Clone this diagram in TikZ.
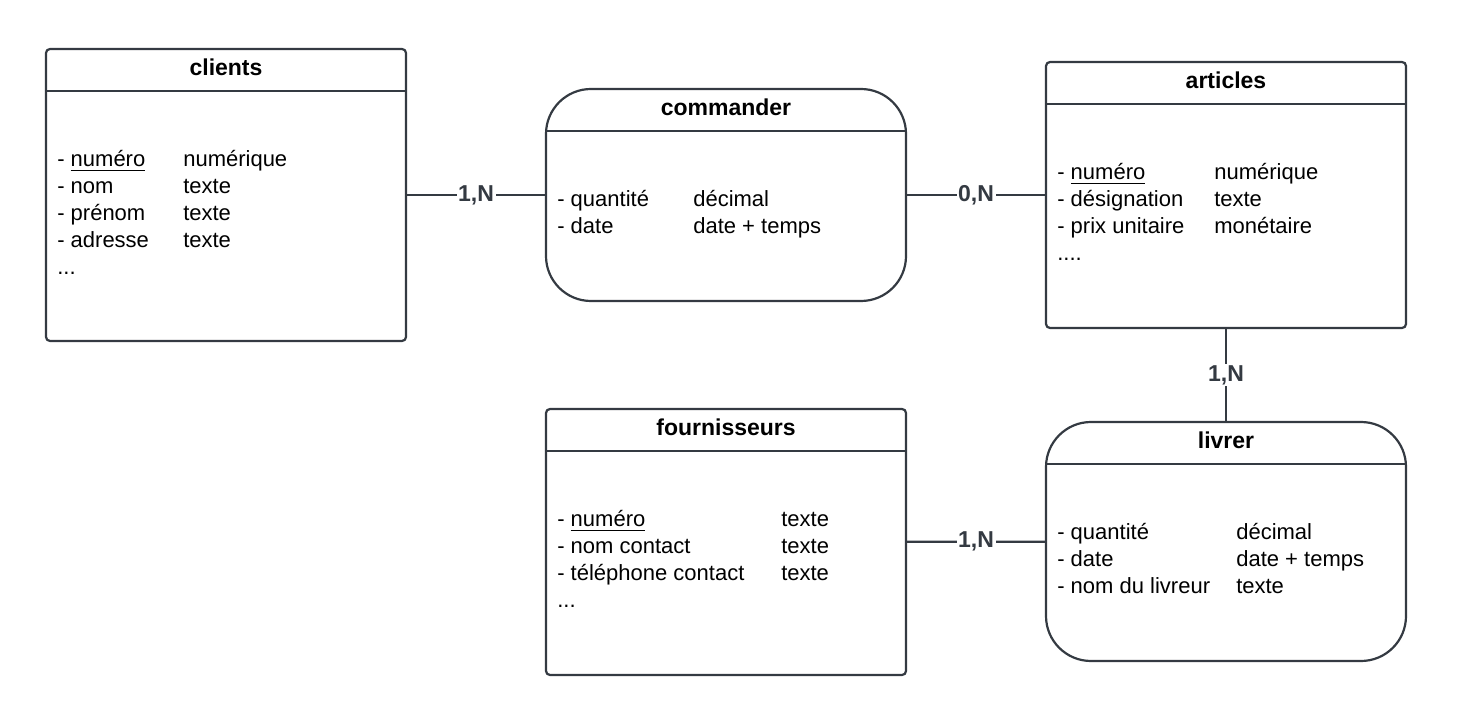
\documentclass[tikz,border=0pt]{standalone}
\usepackage{fontspec}
\setmainfont{Liberation Sans}
\usetikzlibrary{positioning}

\definecolor{linegray}{RGB}{52,58,66}

\tikzset{
  entity/.style={draw=linegray, line width=1.1pt, rounded corners=2pt,
    minimum width=180pt, inner sep=0pt},
  assoc/.style={entity, rounded corners=22.5pt},
  title/.style={anchor=base, font=\fontsize{11.5}{14}\selectfont\bfseries, inner sep=0pt},
  attrs/.style={anchor=base west, inner sep=0pt, align=left},
  card/.style={fill=white, inner sep=0.8pt, font=\fontsize{11.5}{14}\selectfont\bfseries, text=linegray}
}

\begin{document}
\begin{tikzpicture}[x=0.5pt, y=-0.5pt, font=\fontsize{11}{13.5}\selectfont]

  \useasboundingbox (0,0) rectangle (1461,716);

  \node (clients) [entity, minimum height=146pt] at (226,195) {};
  \node (commander) [assoc, minimum height=106pt] at (726,195) {};
  \node (articles) [entity, minimum height=133pt] at (1226,195) {};
  \node (fournisseurs) [entity, minimum height=133pt] at (726,542) {};
  \node (livrer) [assoc, minimum height=119.5pt] at (1226,541.5) {};

  % titles and header lines
  \foreach \n in {clients,commander,articles,fournisseurs,livrer} {
    \node[title] (\n-t) at ([yshift=-14pt]\n.north) {\n};
    \draw[linegray, line width=1.1pt]
      ([yshift=-21.5pt]\n.north west) -- ([yshift=-21.5pt]\n.north east);
  }

  % attributes
  \node[attrs] (clients-a) at ([xshift=6pt,yshift=-59.5pt]clients.north west)
    {\begin{tabular}[t]{@{}p{63pt}@{}l@{}}
      - \underline{numéro} & numérique\\
      - nom & texte\\
      - prénom & texte\\
      - adresse & texte\\
      ... &
    \end{tabular}};
  \node[attrs] (commander-a) at ([xshift=6pt,yshift=-59.5pt]commander.north west)
    {\begin{tabular}[t]{@{}p{68pt}@{}l@{}}
      - quantité & décimal\\
      - date & date + temps
    \end{tabular}};
  \node[attrs] (articles-a) at ([xshift=6pt,yshift=-59.5pt]articles.north west)
    {\begin{tabular}[t]{@{}p{78.5pt}@{}l@{}}
      - \underline{numéro} & numérique\\
      - désignation & texte\\
      - prix unitaire & monétaire\\
      .... &
    \end{tabular}};
  \node[attrs] (fournisseurs-a) at ([xshift=6pt,yshift=-59.5pt]fournisseurs.north west)
    {\begin{tabular}[t]{@{}p{112pt}@{}l@{}}
      - \underline{numéro} & texte\\
      - nom contact & texte\\
      - téléphone contact & texte\\
      ... &
    \end{tabular}};
  \node[attrs] (livrer-a) at ([xshift=6pt,yshift=-59.5pt]livrer.north west)
    {\begin{tabular}[t]{@{}p{89.5pt}@{}l@{}}
      - quantité & décimal\\
      - date & date + temps\\
      - nom du livreur & texte
    \end{tabular}};

  \path[draw=linegray, line width=1.1pt]
    (clients) edge node[card] {1,N} (commander)
    (commander) edge node[card] {0,N} (articles)
    (articles) edge node[card] {1,N} (livrer)
    (fournisseurs) edge node[card] {1,N} (livrer);

\end{tikzpicture}
\end{document}
